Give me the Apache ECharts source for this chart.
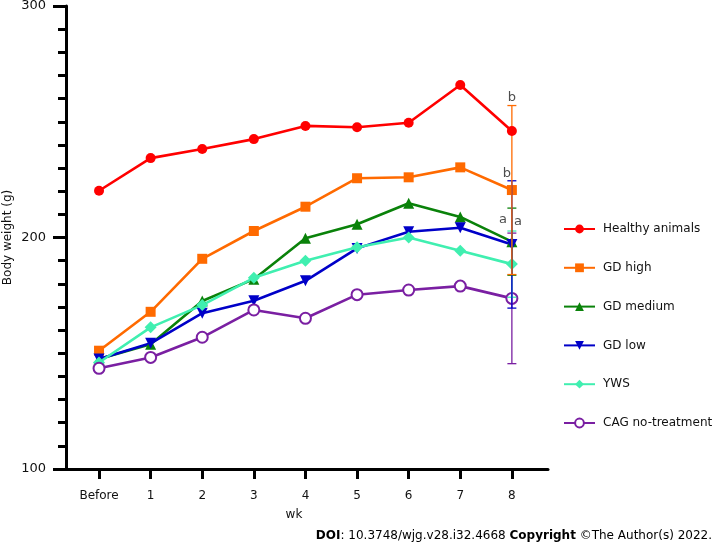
<!DOCTYPE html>
<html>
<head>
<meta charset="utf-8">
<script src="https://cdn.jsdelivr.net/npm/echarts@6/dist/echarts.min.js"></script>
<style>html,body{margin:0;padding:0;background:#fff;}#c{width:715px;height:554px;}</style>
</head>
<body>
<div id="c"></div>
<script>
// ---- data ----
var weeks = ['Before', '1', '2', '3', '4', '5', '6', '7', '8'];
var weekPos = [0, 1, 2, 3, 4, 5, 6, 7, 8];
var yTickLabels = [100, 200, 300];
var seriesNames = ['Healthy animals', 'GD high', 'GD medium', 'GD low', 'YWS', 'CAG no-treatment'];
var healthy = [220.2, 234.3, 238.2, 242.5, 248.2, 247.6, 249.6, 265.9, 246.0];
var gdHigh = [151.1, 167.9, 190.8, 202.8, 213.3, 225.6, 226.0, 230.3, 220.5];
var gdMedium = [147.5, 153.9, 172.6, 182.0, 199.7, 205.7, 214.8, 208.9, 198.2];
var gdLow = [147.5, 154.3, 167.3, 172.7, 181.3, 195.3, 202.5, 204.2, 197.0];
var yws = [146.0, 161.2, 170.8, 182.6, 190.0, 195.8, 200.0, 194.3, 188.5];
var cag = [143.5, 148.2, 156.9, 168.7, 165.1, 175.3, 177.3, 179.0, 173.7];
// error (±) at week 8
var err8 = [null, 36.5, 14.5, 27.5, 14.3, 28.2];
// significance letters, anchored at the upper end of a series' error bar
var sigLetters = [
  {text: 'b', series: 1},
  {text: 'b', series: 3},
  {text: 'a', series: 2},
  {text: 'a', series: 4}
];

var colors = ['#ff0000', '#ff6a00', '#0a820a', '#0000c8', '#40efb0', '#7a1fa2'];
var symbols = ['circle', 'rect', 'triangle', 'path://M0,0 L10,0 L5,10 Z', 'diamond', 'emptyCircle'];
var symbolSizes = [10, 10, 11, 11, 12, 11];
var allData = [healthy, gdHigh, gdMedium, gdLow, yws, cag];
var FONT = 'DejaVu Sans';

var chart = echarts.init(document.getElementById('c'), null, {renderer: 'canvas'});

var series = [];
allData.forEach(function (arr, i) {
  series.push({
    name: seriesNames[i],
    type: 'line',
    data: arr.map(function (v, k) { return [weekPos[k], v]; }),
    symbol: symbols[i],
    symbolSize: symbolSizes[i],
    lineStyle: {color: colors[i], width: 2.6},
    itemStyle: {color: colors[i], borderColor: colors[i], borderWidth: i === 5 ? 1.6 : 0},
    z: i === 0 ? 6 : 3,
    animation: false
  });
});

// error bars (drawn from purple first to orange last)
[5, 4, 2, 3, 1].forEach(function (i) {
  if (err8[i] == null) return;
  var v = allData[i][8];
  series.push({
    type: 'custom',
    name: seriesNames[i] + ' err',
    z: 4,
    silent: true,
    animation: false,
    data: [[weekPos[8], v - err8[i], v + err8[i]]],
    renderItem: function (params, api) {
      var lo = api.coord([api.value(0), api.value(1)]);
      var hi = api.coord([api.value(0), api.value(2)]);
      var w = 4.5;
      var st = {stroke: colors[i], lineWidth: 1.3};
      return {
        type: 'group',
        children: [
          {type: 'line', shape: {x1: lo[0], y1: lo[1], x2: hi[0], y2: hi[1]}, style: st},
          {type: 'line', shape: {x1: lo[0] - w, y1: lo[1], x2: lo[0] + w, y2: lo[1]}, style: st},
          {type: 'line', shape: {x1: hi[0] - w, y1: hi[1], x2: hi[0] + w, y2: hi[1]}, style: st}
        ]
      };
    }
  });
});

var letterCfg = [
  {pos: 'top', distance: 1, offset: [0, 0]},
  {pos: 'top', distance: 1, offset: [-5, 0]},
  {pos: 'bottom', distance: 5, offset: [-9, 0]},
  {pos: 'top', distance: 3, offset: [6, 0]}
];
series.push({
  type: 'scatter',
  name: 'letters',
  symbolSize: 0,
  silent: true,
  z: 7,
  animation: false,
  data: sigLetters.map(function (s, k) {
    var i = s.series;
    return {
      value: [weekPos[8], allData[i][8] + err8[i]],
      label: {
        show: true, formatter: s.text, position: letterCfg[k].pos,
        distance: letterCfg[k].distance, offset: letterCfg[k].offset,
        color: '#222', fontSize: 13, fontFamily: FONT
      }
    };
  })
});

chart.setOption({
  backgroundColor: '#fff',
  animation: false,
  grid: {left: 66, top: 6, right: 167, bottom: 85, containLabel: false, outerBoundsMode: 'none'},
  legend: {
    orient: 'vertical',
    left: 563,
    top: 223,
    padding: 0,
    itemWidth: 31,
    itemHeight: 11,
    itemGap: 26.8,
    data: seriesNames,
    textStyle: {fontFamily: FONT, fontSize: 12, color: '#111', padding: [0, 0, 0, 3]}
  },
  xAxis: {
    type: 'value',
    min: -0.64,
    max: 8.7,
    name: 'wk',
    nameLocation: 'middle',
    nameGap: 40,
    nameMoveOverlap: false,
    nameTextStyle: {fontFamily: FONT, fontSize: 12, color: '#111', padding: [0, 26, 0, 0]},
    axisLine: {show: true, onZero: false, lineStyle: {color: '#000', width: 3}},
    axisTick: {show: true, inside: false, customValues: weekPos, length: 10, lineStyle: {color: '#000', width: 3}},
    axisLabel: {
      customValues: weekPos, margin: 21,
      fontFamily: FONT, fontSize: 12, color: '#111',
      formatter: function (v) { return weeks[Math.round(v)]; }
    },
    splitLine: {show: false}
  },
  yAxis: {
    type: 'value',
    min: 100,
    max: 300,
    interval: 100,
    name: 'Body weight (g)',
    nameLocation: 'middle',
    nameGap: 52,
    nameMoveOverlap: false,
    nameTextStyle: {fontFamily: FONT, fontSize: 12, color: '#111'},
    axisLine: {show: true, onZero: false, lineStyle: {color: '#000', width: 3}},
    axisTick: {show: true, inside: false, length: 13, lineStyle: {color: '#000', width: 3}},
    minorTick: {show: true, splitNumber: 10, length: 8, lineStyle: {color: '#000', width: 3}},
    axisLabel: {customValues: yTickLabels, margin: 20, fontFamily: FONT, fontSize: 13, color: '#111'},
    splitLine: {show: false},
    minorSplitLine: {show: false}
  },
  graphic: [{
    type: 'text',
    right: 3,
    top: 530,
    style: {
      text: '{b|DOI}: 10.3748/wjg.v28.i32.4668 {b|Copyright} ©The Author(s) 2022.',
      rich: {b: {fontWeight: 'bold', fontFamily: FONT, fontSize: 12, fill: '#000'}},
      fontFamily: FONT, fontSize: 12, fill: '#000'
    }
  }],
  series: series
});
</script>
</body>
</html>
